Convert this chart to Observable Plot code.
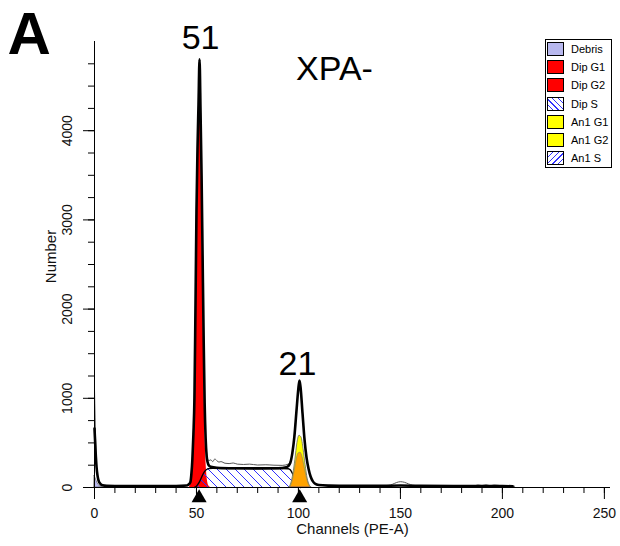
<!DOCTYPE html>
<html><head><meta charset="utf-8">
<script src="https://cdn.jsdelivr.net/npm/d3@7"></script>
<script src="https://cdn.jsdelivr.net/npm/@observablehq/plot@0.6"></script>
<style>
html,body{margin:0;padding:0;background:#fff;}
#wrap{position:relative;width:620px;height:546px;font-family:"Liberation Sans",Arial,sans-serif;}
#legend{position:absolute;left:545px;top:39px;width:67px;height:129px;border:1px solid #000;background:#fff;box-sizing:border-box;}
.row{position:absolute;left:1px;height:14px;display:flex;align-items:center;}
.sw{width:17px;height:14px;border:1px solid #000;box-sizing:border-box;}
.lb{margin-left:7px;font-size:11px;color:#000;line-height:14px;white-space:nowrap;}
</style></head>
<body><div id="wrap"></div>
<script>
// ---- data ----
const xTicks = [0, 50, 100, 150, 200, 250];
const yTicks = [0, 1000, 2000, 3000, 4000];
const peakChannels = [51.3, 100.6];           // triangle markers
const peakLabels = [{ch: 51.5, n: 4800, t: "51"}, {ch: 100.5, n: 1200, t: "21"}];

// model fit envelope (thick black)
const modelCurve = [[0,660],[0.5,420],[1,230],[1.5,130],[2,78],[3,38],[4,24],[6,18],[10,16],[20,15],[30,15],[40,16],[45,22],[46,32],[47,60],[47.5,150],[48,320],[48.5,600],[49,1000],[49.5,2000],[50,3100],[50.5,3800],[51,4300],[51.5,4800],[52,4200],[52.5,3500],[53,2600],[53.5,1700],[54,950],[54.5,550],[55,350],[55.5,280],[56,250],[57,232],[60,222],[70,216],[80,214],[90,216],[94,228],[95,240],[96,275],[97,385],[98,570],[99,850],[100,1120],[100.5,1200],[101,1130],[102,830],[103,530],[104,330],[105,205],[106,120],[107,72],[108,45],[110,28],[115,21],[120,19],[140,18],[150,22],[160,18],[180,17],[200,16],[205,14]];

// raw histogram data (thin grey)
const dataCurve = [[0,1100],[0.3,780],[0.6,480],[1,260],[1.5,140],[2,85],[3,42],[4,26],[5,20],[8,17],[12,16],[20,15],[30,15],[40,16],[45,22],[47,70],[48,330],[49,1000],[50,3100],[51,4300],[51.5,4800],[52,4200],[53,2600],[54,950],[55,380],[55.5,320],[56,300],[57,310],[58,290],[59,320],[60,300],[61,285],[62,290],[64,272],[66,268],[68,275],[70,262],[73,258],[76,262],[80,252],[84,255],[88,250],[92,248],[95,262],[97,380],[99,850],[100.5,1200],[102,820],[104,330],[106,120],[108,45],[110,28],[115,20],[120,18],[125,22],[130,18],[135,20],[140,19],[144,24],[146,35],[148,55],[150,65],[152,58],[154,40],[156,26],[160,18],[170,17],[180,16],[186,18],[188,28],[190,22],[192,30],[194,20],[196,28],[198,24],[200,17],[203,15],[206,14]];

// model components
const debris = [[0,130],[0.5,105],[1,75],[1.5,48],[2,28],[3,11],[4,3],[5,0]];
const dipG1 = [[46.5,0],[47,30],[47.5,110],[48,260],[48.5,520],[49,900],[49.5,1850],[50,2950],[50.5,3650],[51,4150],[51.5,4650],[52,4050],[52.5,3350],[53,2450],[53.5,1550],[54,800],[54.5,380],[55,160],[55.5,60],[56,20],[57,0]];
const dipS = [[49,0],[50,15],[51,45],[52,90],[53,140],[54,180],[55,202],[56,211],[58,214],[65,213],[75,212],[85,212],[92,213],[95,211],[96,198],[97,160],[98,105],[99,50],[100,15],[101,0]];
const an1G1 = [[95.5,0],[96.5,45],[97.5,150],[98.5,310],[99.5,500],[100.5,580],[101.5,560],[102.5,430],[103.5,250],[104.5,100],[105.5,25],[106.5,0]];
const dipG2 = [[96,0],[97,60],[98,170],[99,300],[100,380],[101,390],[102,340],[103,230],[104,120],[105,40],[106,0]];

const legendLabels = ["Debris", "Dip G1", "Dip G2", "Dip S", "An1 G1", "An1 G2", "An1 S"];
const legendFills = ["#b8b8ee", "#ff0000", "#ff0000",
  "repeating-linear-gradient(45deg,#fff 0 3px,#3333ff 3px 4px)",
  "#ffff00", "#ffff00",
  "repeating-linear-gradient(-45deg,#fff 0 3px,#3333ff 3px 4px)"];

// ---- build ----
const pts = a => a.map(([ch, n]) => ({ch, n}));
const font = "Liberation Sans, Arial, sans-serif";

const chart = Plot.plot({
  width: 620, height: 546,
  marginLeft: 94, marginRight: 10, marginTop: 41, marginBottom: 59,
  style: {fontFamily: font, background: "white", color: "#000", overflow: "visible"},
  x: {domain: [0, 253], label: null},
  y: {domain: [0, 5000], label: null},
  marks: [
    Plot.areaY(pts(debris), {x: "ch", y: "n", fill: "#b8b8ee", stroke: "#555", strokeWidth: 0.6, curve: "monotone-x"}),
    Plot.areaY(pts(dipG1), {x: "ch", y: "n", fill: "#ff0000", curve: "monotone-x"}),
    Plot.areaY(pts(dipS), {x: "ch", y: "n", fill: "url(#hatchS)", curve: "monotone-x"}),
    Plot.lineY(pts(dipS), {x: "ch", y: "n", stroke: "#000", strokeWidth: 1.4, curve: "monotone-x"}),
    Plot.areaY(pts(an1G1), {x: "ch", y: "n", fill: "#ffff00", stroke: "#666", strokeWidth: 0.8, curve: "monotone-x"}),
    Plot.areaY(pts(dipG2), {x: "ch", y: "n", fill: "#ff0000", fillOpacity: 0.36, stroke: "#777", strokeWidth: 0.6, curve: "monotone-x"}),
    Plot.lineY(pts(dataCurve), {x: "ch", y: "n", stroke: "#555", strokeWidth: 1, curve: "monotone-x"}),
    Plot.lineY(pts(modelCurve), {x: "ch", y: "n", stroke: "#000", strokeWidth: 2.6, curve: "monotone-x"}),
    // axes
    Plot.ruleX([0], {stroke: "#000"}),
    Plot.ruleY([0], {stroke: "#000", strokeWidth: 1.2}),
    Plot.axisY({ticks: d3.range(0, 5000, 250), tickSize: 6, tickFormat: () => "", label: null}),
    Plot.axisY({ticks: yTicks, tickSize: 11, tickFormat: () => "", label: null}),
    Plot.axisX({ticks: d3.range(0, 251, 10), tickSize: 6, tickFormat: () => "", label: null}),
    Plot.axisX({ticks: xTicks, tickSize: 12, tickFormat: () => "", label: null}),
    Plot.text(yTicks, {y: d => d, text: d => String(d), frameAnchor: "left", dx: -26.5, rotate: -90, fontSize: 14, lineAnchor: "middle", textAnchor: "middle", fill: "#111"}),
    Plot.text(xTicks, {x: d => d, text: d => String(d), frameAnchor: "bottom", dy: 26.5, fontSize: 14, lineAnchor: "middle", textAnchor: "middle", fill: "#111"}),
    Plot.text(["Channels (PE-A)"], {frameAnchor: "bottom", dy: 41.5, fontSize: 15, lineAnchor: "middle", textAnchor: "middle", fill: "#111"}),
    Plot.text(["Number"], {frameAnchor: "left", dx: -43, dy: -8, rotate: -90, fontSize: 15, lineAnchor: "middle", textAnchor: "middle", fill: "#111"}),
    Plot.dot(peakChannels, {x: d => d, frameAnchor: "bottom", dy: 10.5, symbol: "triangle", r: 5.6, fill: "#000"}),
    // annotations
    Plot.text(peakLabels.slice(0, 1), {x: "ch", y: "n", text: "t", dy: -21.5, dx: 1, fontSize: 34, lineAnchor: "middle"}),
    Plot.text(peakLabels.slice(1), {x: "ch", y: "n", text: "t", dy: -16.8, dx: -2, fontSize: 34, lineAnchor: "middle"}),
    Plot.text(["XPA-"], {frameAnchor: "top", dx: -18, dy: 28, fontSize: 34, lineAnchor: "middle", textAnchor: "middle"}),
    Plot.text(["A"], {frameAnchor: "top-left", dx: -87, dy: -7, fontSize: 60, fontWeight: "bold", textAnchor: "start", lineAnchor: "middle"})
  ]
});

// hatch pattern for S phase
const defs = d3.select(chart).insert("defs", ":first-child");
const pat = defs.append("pattern").attr("id", "hatchS").attr("patternUnits", "userSpaceOnUse").attr("width", 9).attr("height", 9);
pat.append("path").attr("d", "M-1,-1L10,10M-1,8L1,10M8,-1L10,1").attr("stroke", "#3030ff").attr("stroke-width", 1).attr("fill", "none");

const wrap = document.getElementById("wrap");
wrap.appendChild(chart);

// legend
const legend = document.createElement("div");
legend.id = "legend";
legendLabels.forEach((lab, i) => {
  const row = document.createElement("div");
  row.className = "row";
  row.style.top = (2 + i * 18.2) + "px";
  const sw = document.createElement("div");
  sw.className = "sw";
  sw.style.background = legendFills[i];
  const lb = document.createElement("span");
  lb.className = "lb";
  lb.textContent = lab;
  row.appendChild(sw); row.appendChild(lb);
  legend.appendChild(row);
});
wrap.appendChild(legend);
</script>
</body></html>
